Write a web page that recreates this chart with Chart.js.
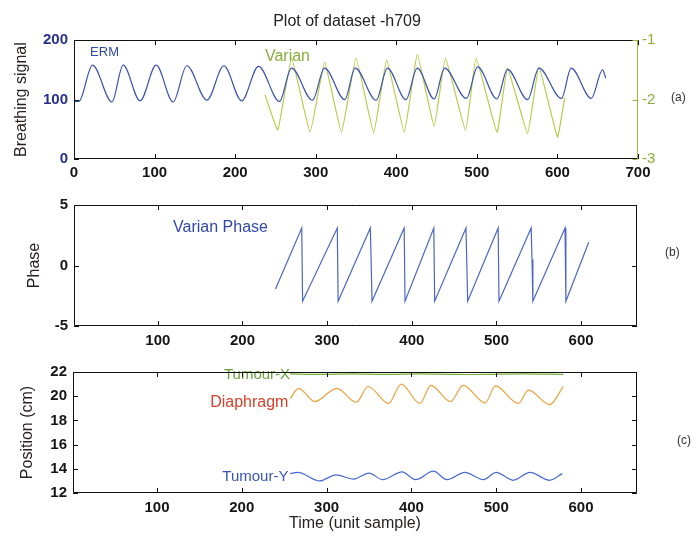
<!DOCTYPE html>
<html>
<head>
<meta charset="utf-8">
<script src="https://cdn.jsdelivr.net/npm/chart.js@4.4.0/dist/chart.umd.min.js"></script>
<style>
  body { margin: 0; background: #fff; }
  #lienzo { position: relative; width: 694px; height: 538px; font-family: "Liberation Sans", Arial, sans-serif; }
  #lienzo canvas { position: absolute; left: 0; }
  .etiqueta { position: absolute; font-size: 12px; color: #333; line-height: 14px; }
</style>
</head>
<body>
<div id="lienzo">
  <canvas id="graficaA" width="694" height="185" style="top:0px;width:694px;height:185px"></canvas>
  <canvas id="graficaB" width="694" height="165" style="top:190px;width:694px;height:165px"></canvas>
  <canvas id="graficaC" width="694" height="183" style="top:355px;width:694px;height:183px"></canvas>
  <span class="etiqueta" style="left:671px;top:90px">(a)</span>
  <span class="etiqueta" style="left:665px;top:245px">(b)</span>
  <span class="etiqueta" style="left:677px;top:433px">(c)</span>
</div>
<script>
//-----Marcas de los ejes-----
const ticksXA = [0, 100, 200, 300, 400, 500, 600, 700];
const ticksXBC = [100, 200, 300, 400, 500, 600];
const ticksYA = [0, 100, 200];
const ticksY2A = [-3, -2, -1];
const ticksYB = [-5, 0, 5];
const ticksYC = [12, 14, 16, 18, 20, 22];

//-----(a) Breathing signal-----
const tiempoErm = [0, 6, 23, 47, 61, 82, 102, 123, 140, 165, 186, 208, 229, 255, 270, 296, 311, 336, 349, 375, 389, 412, 426, 447, 460, 487, 501, 525, 538, 563, 577, 605, 617, 642, 656, 660];
const valorErm = [97, 97, 158, 96, 158, 98, 158, 96, 157, 99, 157, 98, 156, 97, 153, 99, 153, 100, 153, 99, 153, 100, 153, 101, 153, 102, 155, 101, 151, 100, 153, 102, 153, 102, 150, 136];
const tiempoVarian = [237, 253, 270, 293, 311, 332, 350, 372, 388, 410, 426, 447, 461, 486, 499, 525, 538, 563, 577, 600, 609];
const valorVarian = [-1.92, -2.51, -1.30, -2.55, -1.37, -2.55, -1.30, -2.56, -1.33, -2.55, -1.24, -2.45, -1.30, -2.52, -1.30, -2.55, -1.47, -2.57, -1.45, -2.63, -1.97];

//-----(b) Varian Phase-----
const tiempoFase = [239, 270, 271, 312, 313, 351, 352, 353, 391, 392, 426, 427, 464, 466, 502, 503, 541, 542, 543, 581, 582, 609];
const valorFase = [-1.94, 3.1, -2.95, 3.1, -2.95, 3.1, 0.3, -2.95, 3.1, -2.95, 3.1, -2.95, 3.1, -2.95, 3.1, -2.95, 3.1, 0.5, -2.95, 3.1, -2.95, 1.92];

//-----(c) Position-----
const tiempoTumorX = [257, 290, 330, 370, 410, 450, 490, 530, 579];
const valorTumorX = [21.85, 21.8, 21.85, 21.8, 21.85, 21.8, 21.8, 21.85, 21.8];
const tiempoDiafragma = [257, 267, 286, 312, 335, 349, 373, 388, 410, 423, 446, 461, 487, 499, 526, 538, 563, 579];
const valorDiafragma = [19.8, 20.65, 19.55, 20.65, 19.5, 20.8, 19.4, 21.0, 19.4, 20.9, 19.55, 20.9, 19.45, 20.85, 19.4, 20.5, 19.3, 20.8];
const tiempoTumorY = [257, 266, 292, 311, 332, 350, 366, 389, 405, 426, 442, 463, 485, 500, 520, 540, 563, 578];
const valorTumorY = [13.6, 13.7, 13.0, 13.5, 13.15, 13.65, 13.1, 13.75, 13.1, 13.8, 13.1, 13.7, 13.1, 13.7, 13.05, 13.7, 13.05, 13.6];

const fuente = '"Liberation Sans", Arial, sans-serif';
Chart.defaults.font.family = fuente;

// Unir tiempos y valores en puntos {x, y}
function puntos(xs, ys) {
  return xs.map((x, i) => ({ x, y: ys[i] }));
}

// Fijar las marcas de un eje
function fijarTicks(valores) {
  return (scale) => { scale.ticks = valores.map((v) => ({ value: v })); };
}

// Caja del grafico con marcas hacia adentro (estilo matlab)
const cajaTicks = {
  id: "cajaTicks",
  afterDraw(chart, args, opts) {
    const { ctx, chartArea: a, scales } = chart;
    const L = 5;
    ctx.save();
    ctx.lineWidth = 1;
    ctx.strokeStyle = "#111";
    ctx.beginPath();
    scales.x.ticks.forEach((t) => {
      const px = Math.round(scales.x.getPixelForValue(t.value)) + 0.5;
      ctx.moveTo(px, a.top); ctx.lineTo(px, a.top + L);
      ctx.moveTo(px, a.bottom); ctx.lineTo(px, a.bottom - L);
    });
    scales.y.ticks.forEach((t) => {
      const py = Math.round(scales.y.getPixelForValue(t.value)) + 0.5;
      ctx.moveTo(a.left, py); ctx.lineTo(a.left + L, py);
      if (!scales.y2) { ctx.moveTo(a.right, py); ctx.lineTo(a.right - L, py); }
    });
    const l = Math.round(a.left) + 0.5, r = Math.round(a.right) - 0.5;
    const t = Math.round(a.top) + 0.5, b = Math.round(a.bottom) - 0.5;
    ctx.moveTo(l, t); ctx.lineTo(r, t);
    ctx.moveTo(l, b); ctx.lineTo(r, b);
    ctx.moveTo(l, t); ctx.lineTo(l, b);
    if (!scales.y2) { ctx.moveTo(r, t); ctx.lineTo(r, b); }
    ctx.stroke();
    if (scales.y2) {
      ctx.strokeStyle = opts.colorDerecho || "#111";
      ctx.beginPath();
      ctx.moveTo(r, t); ctx.lineTo(r, b);
      scales.y2.ticks.forEach((tk) => {
        const py = Math.round(scales.y2.getPixelForValue(tk.value)) + 0.5;
        ctx.moveTo(r, py); ctx.lineTo(r - L, py);
      });
      ctx.stroke();
    }
    ctx.restore();
  },
};

// Textos dentro del grafico
const notas = {
  id: "notas",
  afterDatasetsDraw(chart, args, opts) {
    const { ctx, scales } = chart;
    (opts.items || []).forEach((n) => {
      ctx.save();
      ctx.font = n.size + "px " + fuente;
      ctx.fillStyle = n.color;
      ctx.textAlign = n.align || "left";
      ctx.textBaseline = "middle";
      ctx.fillText(n.text, scales.x.getPixelForValue(n.x), scales[n.axis || "y"].getPixelForValue(n.y));
      ctx.restore();
    });
  },
};

const sinGrid = { display: false, drawTicks: false };
const sinBorde = { display: false };
const fuenteTicks = { size: 15, weight: "bold" };

function serie(data, color, extra) {
  return Object.assign({ data, borderColor: color, borderWidth: 1.2, pointRadius: 0, fill: false }, extra);
}

// Grafica (a)
new Chart(document.getElementById("graficaA"), {
  type: "line",
  data: {
    datasets: [
      serie(puntos(tiempoErm, valorErm), "#3a52b2", { yAxisID: "y", cubicInterpolationMode: "monotone" }),
      serie(puntos(tiempoVarian, valorVarian), "#b8cc48", { yAxisID: "y2", tension: 0.1 }),
    ],
  },
  options: {
    responsive: false,
    animation: false,
    layout: { padding: 0 },
    plugins: {
      legend: { display: false },
      tooltip: { enabled: false },
      title: { display: true, text: "Plot of dataset -h709", color: "#222", font: { size: 16, weight: "normal" }, padding: { top: 12, bottom: 9 } },
      cajaTicks: { colorDerecho: "#9ab83a" },
      notas: {
        items: [
          { text: "ERM", x: 20, y: 180, size: 13, color: "#3048a8" },
          { text: "Varian", x: 237, y: 173, size: 16, color: "#8aae3a" },
        ],
      },
    },
    scales: {
      x: {
        type: "linear", min: 0, max: 700,
        afterBuildTicks: fijarTicks(ticksXA),
        afterFit: (s) => { s.height = 26; },
        grid: sinGrid, border: sinBorde,
        ticks: { padding: 5, color: "#151515", font: fuenteTicks, maxRotation: 0, autoSkip: false },
      },
      y: {
        position: "left", min: 0, max: 200,
        afterBuildTicks: fijarTicks(ticksYA),
        afterFit: (s) => { s.width = 74; },
        grid: sinGrid, border: sinBorde,
        ticks: { padding: 6, color: "#2a2f8f", font: fuenteTicks },
        title: { display: true, text: "Breathing signal", color: "#2a2222", font: { size: 16 }, padding: { top: 12, bottom: 0 } },
      },
      y2: {
        position: "right", min: -3, max: -1,
        afterBuildTicks: fijarTicks(ticksY2A),
        afterFit: (s) => { s.width = 56; },
        grid: sinGrid, border: sinBorde,
        ticks: { padding: 4, color: "#8aae3a", font: { size: 15 } },
      },
    },
  },
  plugins: [cajaTicks, notas],
});

// Grafica (b)
new Chart(document.getElementById("graficaB"), {
  type: "line",
  data: {
    datasets: [serie(puntos(tiempoFase, valorFase), "#4a66c8", { tension: 0 })],
  },
  options: {
    responsive: false,
    animation: false,
    layout: { padding: { top: 15, right: 57 } },
    plugins: {
      legend: { display: false },
      tooltip: { enabled: false },
      notas: { items: [{ text: "Varian Phase", x: 118, y: 3.1, size: 16, color: "#3048a8" }] },
    },
    scales: {
      x: {
        type: "linear", min: 1, max: 666,
        afterBuildTicks: fijarTicks(ticksXBC),
        afterFit: (s) => { s.height = 29; },
        grid: sinGrid, border: sinBorde,
        ticks: { padding: 6, color: "#151515", font: fuenteTicks, maxRotation: 0, autoSkip: false },
      },
      y: {
        position: "left", min: -5, max: 5,
        afterBuildTicks: fijarTicks(ticksYB),
        afterFit: (s) => { s.width = 74; },
        grid: sinGrid, border: sinBorde,
        ticks: { padding: 6, color: "#151515", font: fuenteTicks },
        title: { display: true, text: "Phase", color: "#2a2222", font: { size: 16 }, padding: { top: 25, bottom: 0 } },
      },
    },
  },
  plugins: [cajaTicks, notas],
});

// Grafica (c)
new Chart(document.getElementById("graficaC"), {
  type: "line",
  data: {
    datasets: [
      serie(puntos(tiempoTumorX, valorTumorX), "#78ae3c", { tension: 0.3 }),
      serie(puntos(tiempoDiafragma, valorDiafragma), "#f0a03c", { cubicInterpolationMode: "monotone" }),
      serie(puntos(tiempoTumorY, valorTumorY), "#4a6ad0", { cubicInterpolationMode: "monotone" }),
    ],
  },
  options: {
    responsive: false,
    animation: false,
    layout: { padding: { top: 17, right: 57 } },
    plugins: {
      legend: { display: false },
      tooltip: { enabled: false },
      notas: {
        items: [
          { text: "Tumour-X", x: 257, y: 21.75, size: 15, color: "#6aa23a", align: "right" },
          { text: "Diaphragm", x: 255, y: 19.5, size: 16, color: "#d8402a", align: "right" },
          { text: "Tumour-Y", x: 255, y: 13.35, size: 15, color: "#3a55b8", align: "right" },
        ],
      },
    },
    scales: {
      x: {
        type: "linear", min: 1, max: 666,
        afterBuildTicks: fijarTicks(ticksXBC),
        afterFit: (s) => { s.height = 45; },
        grid: sinGrid, border: sinBorde,
        ticks: { padding: 6, color: "#151515", font: fuenteTicks, maxRotation: 0, autoSkip: false },
        title: { display: true, text: "Time (unit sample)", color: "#2a2222", font: { size: 16 }, padding: { top: 0, bottom: 5 } },
      },
      y: {
        position: "left", min: 12, max: 22,
        afterBuildTicks: fijarTicks(ticksYC),
        afterFit: (s) => { s.width = 73; },
        grid: sinGrid, border: sinBorde,
        ticks: { padding: 6, color: "#151515", font: fuenteTicks },
        title: { display: true, text: "Position (cm)", color: "#2a2222", font: { size: 16 }, padding: { top: 18, bottom: 0 } },
      },
    },
  },
  plugins: [cajaTicks, notas],
});
</script>
</body>
</html>
